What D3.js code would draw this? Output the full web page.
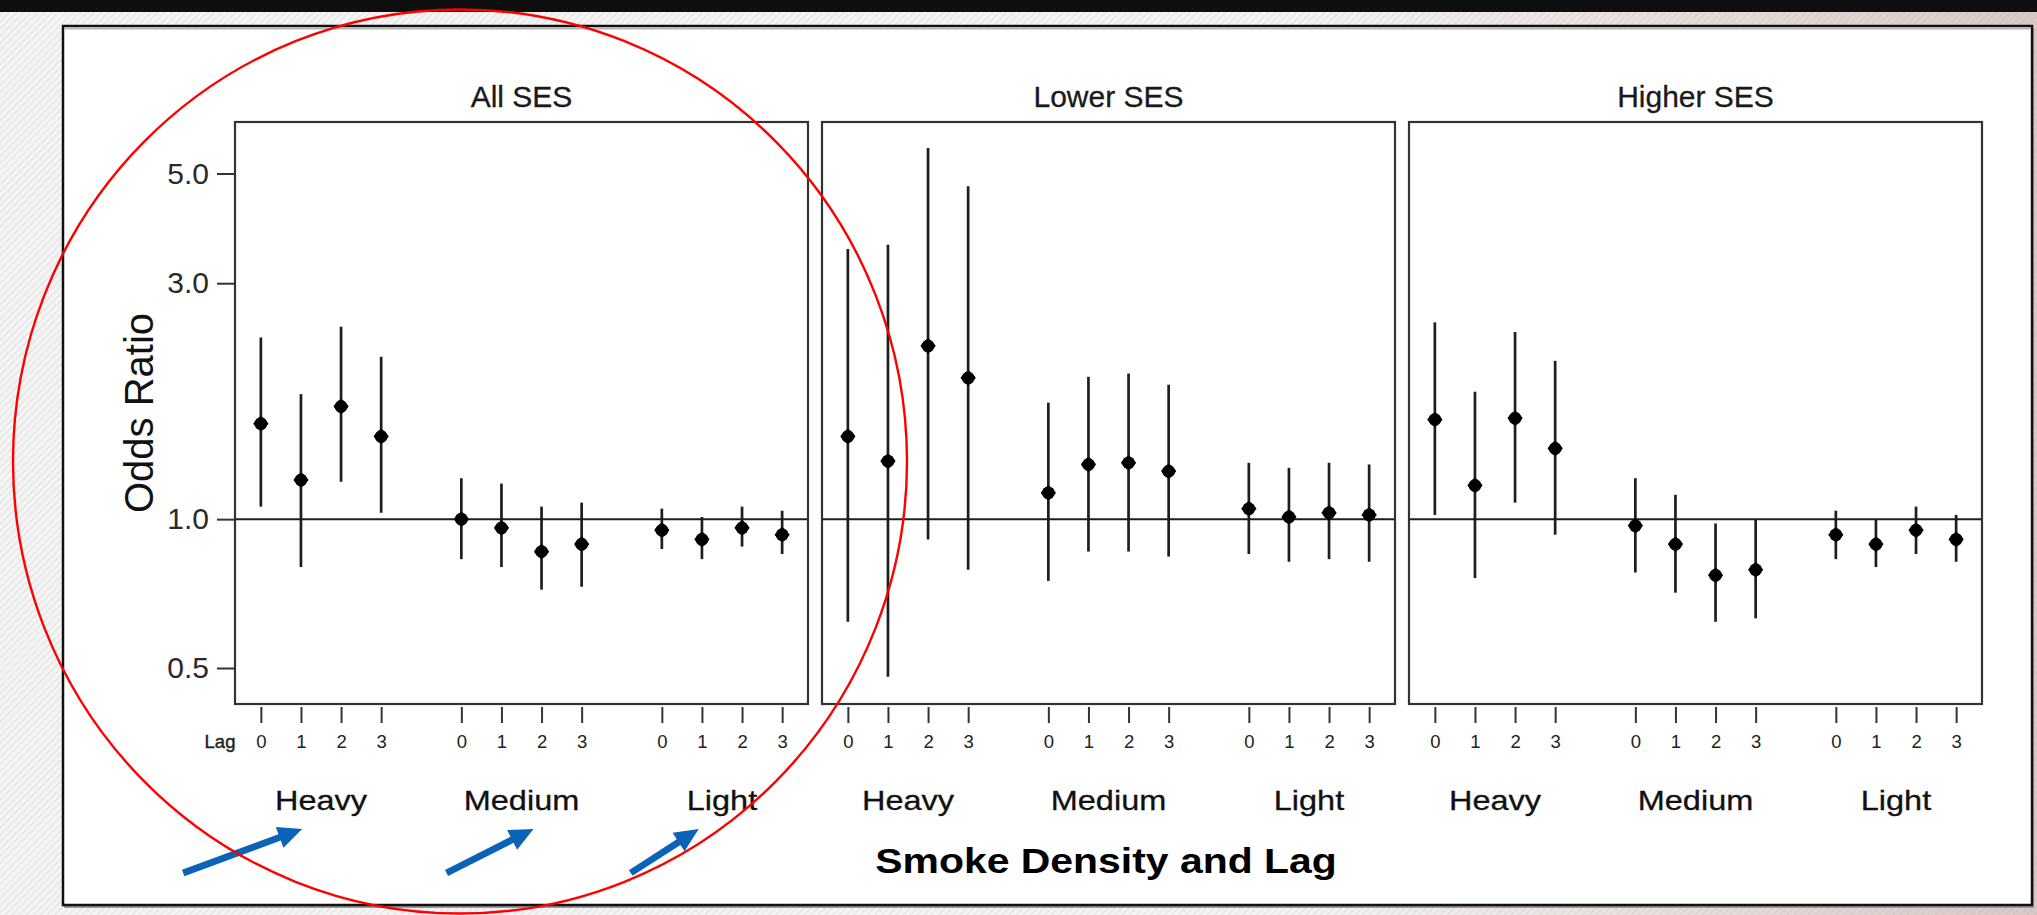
<!DOCTYPE html>
<html>
<head>
<meta charset="utf-8">
<script src="https://cdn.jsdelivr.net/npm/d3@7"></script>
<style>
  html, body { margin: 0; padding: 0; background: #fff; }
  svg { display: block; }
  text { font-family: "Liberation Sans", Arial, Helvetica, sans-serif; }
</style>
</head>
<body>
<svg id="chart" width="2037" height="915"></svg>
<script>
// Panels, smoke-density groups and lags
const panelNames = ["All SES", "Lower SES", "Higher SES"];
const densities = ["Heavy", "Medium", "Light"];
const lags = [0, 1, 2, 3];
const yTickValues = [0.5, 1.0, 3.0, 5.0];

// Odds ratios with 95% CI, ordered Heavy lag0..3, Medium lag0..3, Light lag0..3
const allEst  = [1.56, 1.20, 1.69, 1.47,  1.00, 0.96, 0.86, 0.89,  0.95, 0.91, 0.96, 0.93];
const allLow  = [1.06, 0.80, 1.19, 1.03,  0.83, 0.80, 0.72, 0.73,  0.87, 0.83, 0.88, 0.85];
const allHigh = [2.33, 1.79, 2.45, 2.13,  1.21, 1.18, 1.06, 1.08,  1.05, 1.01, 1.06, 1.04];

const lowerEst  = [1.47, 1.31, 2.24, 1.93,  1.13, 1.29, 1.30, 1.25,  1.05, 1.01, 1.03, 1.02];
const lowerLow  = [0.62, 0.48, 0.91, 0.79,  0.75, 0.86, 0.86, 0.84,  0.85, 0.82, 0.83, 0.82];
const lowerHigh = [3.52, 3.59, 5.63, 4.71,  1.72, 1.94, 1.97, 1.87,  1.30, 1.27, 1.30, 1.29];

const higherEst  = [1.59, 1.17, 1.60, 1.39,  0.97, 0.89, 0.77, 0.79,  0.93, 0.89, 0.95, 0.91];
const higherLow  = [1.02, 0.76, 1.08, 0.93,  0.78, 0.71, 0.62, 0.63,  0.83, 0.80, 0.85, 0.82];
const higherHigh = [2.50, 1.81, 2.39, 2.09,  1.21, 1.12, 0.98, 1.00,  1.04, 1.00, 1.06, 1.02];

const panelSeries = [
  { est: allEst,    lo: allLow,    hi: allHigh },
  { est: lowerEst,  lo: lowerLow,  hi: lowerHigh },
  { est: higherEst, lo: higherLow, hi: higherHigh }
];

// Highlight arrows under the first panel's density labels (x in panel units)
const arrowTipX = [2.03, 7.8, 11.92];
const arrowRun  = [119, 87, 68];

const W = 2037, H = 915;
const svg = d3.select("#chart");

// ---- page background ----
const defs = svg.append("defs");
const hatch = defs.append("pattern")
  .attr("id", "hatch").attr("patternUnits", "userSpaceOnUse")
  .attr("width", 5).attr("height", 5)
  .attr("patternTransform", "rotate(45)");
hatch.append("rect").attr("width", 5).attr("height", 5).attr("fill", "#f4f4f4");
hatch.append("line").attr("x1", 0).attr("y1", 0).attr("x2", 0).attr("y2", 5)
  .attr("stroke", "#e1e1e1").attr("stroke-width", 2);
const tint = defs.append("linearGradient").attr("id", "tint")
  .attr("gradientUnits", "userSpaceOnUse")
  .attr("x1", 1300).attr("y1", 0).attr("x2", W).attr("y2", 0);
tint.append("stop").attr("offset", 0).attr("stop-color", "#c4a6a0").attr("stop-opacity", 0);
tint.append("stop").attr("offset", 1).attr("stop-color", "#c4a6a0").attr("stop-opacity", 0.55);

svg.append("rect").attr("width", W).attr("height", H).attr("fill", "url(#hatch)");
svg.append("rect").attr("width", W).attr("height", H).attr("fill", "url(#tint)");
svg.append("rect").attr("width", W).attr("height", 12).attr("fill", "#0e0e0e");

// white figure card
svg.append("rect").attr("x", 64).attr("y", 28).attr("width", 1970).attr("height", 880)
  .attr("fill", "#9a9a9a");
svg.append("rect").attr("x", 63).attr("y", 26).attr("width", 1969).attr("height", 879)
  .attr("fill", "#fff").attr("stroke", "#111").attr("stroke-width", 2.5);
svg.append("line").attr("x1", 65).attr("x2", 2030).attr("y1", 28.5).attr("y2", 28.5)
  .attr("stroke", "#b5b5b5").attr("stroke-width", 2);

// ---- chart layout ----
const panelLeft0 = 235, panelW = 573, panelStep = 587;
const panelTop = 122, panelBottom = 704;

const x = d3.scaleLinear().domain([0.355, 14.645]).range([0, panelW]);
const y = d3.scaleLog().domain([0.5, 5]).range([668, 173.5]);

const posOf = i => Math.floor(i / 4) * 5 + (i % 4) + 1;
const positions = d3.range(12).map(posOf);

const ink = "#1e1e1e";

panelNames.forEach((name, p) => {
  const series = panelSeries[p];
  const g = svg.append("g").attr("transform", `translate(${panelLeft0 + p * panelStep},0)`);

  // reference line at OR = 1
  g.append("line")
    .attr("x1", 0).attr("x2", panelW)
    .attr("y1", y(1)).attr("y2", y(1))
    .attr("stroke", ink).attr("stroke-width", 2);

  // confidence intervals
  g.selectAll("line.ci").data(d3.range(12)).join("line")
    .attr("class", "ci")
    .attr("x1", i => x(posOf(i))).attr("x2", i => x(posOf(i)))
    .attr("y1", i => y(series.lo[i])).attr("y2", i => y(series.hi[i]))
    .attr("stroke", ink).attr("stroke-width", 2.7);

  // point estimates: filled rounded diamonds
  const pts = g.selectAll("g.pt").data(d3.range(12)).join("g")
    .attr("class", "pt")
    .attr("transform", i => `translate(${x(posOf(i))},${y(series.est[i])})`);
  pts.append("rect").attr("x", -5.6).attr("y", -5.6).attr("width", 11.2).attr("height", 11.2)
    .attr("rx", 1.2)
    .attr("transform", "rotate(45)").attr("fill", "#000");
  pts.append("circle").attr("r", 6.4).attr("fill", "#000");

  // panel frame
  g.append("rect")
    .attr("x", 0).attr("y", panelTop)
    .attr("width", panelW).attr("height", panelBottom - panelTop)
    .attr("fill", "none").attr("stroke", "#333").attr("stroke-width", 2.2);

  // panel title
  g.append("text")
    .attr("x", panelW / 2).attr("y", 107)
    .attr("text-anchor", "middle")
    .attr("font-size", 30).attr("fill", "#1a1a1a")
    .attr("stroke", "#1a1a1a").attr("stroke-width", 0.3)
    .text(name);

  // lag axis
  const xAxis = d3.axisBottom(x)
    .tickValues(positions)
    .tickFormat((d, i) => lags[i % 4])
    .tickSize(16).tickPadding(12);
  const xa = g.append("g").attr("transform", `translate(0,707)`).call(xAxis);
  xa.select(".domain").remove();
  xa.selectAll(".tick line").attr("stroke", "#333").attr("stroke-width", 2);
  xa.selectAll(".tick text").attr("font-size", 18.5).attr("fill", "#222")
    .attr("font-family", "'Liberation Sans', Arial, sans-serif");

  // density group labels
  g.selectAll("text.grp").data(densities).join("text")
    .attr("class", "grp")
    .attr("text-anchor", "middle")
    .attr("font-size", 28).attr("fill", "#111")
    .attr("stroke", "#111").attr("stroke-width", 0.3)
    .attr("transform", (d, k) => `translate(${x(k * 5 + 2.5)},810) scale(1.16,1)`)
    .text(d => d);

  if (p === 0) {
    const yAxis = d3.axisLeft(y)
      .tickValues(yTickValues)
      .tickFormat(d3.format(".1f"))
      .tickSize(18).tickPadding(8);
    const ya = g.append("g").call(yAxis);
    ya.select(".domain").remove();
    ya.selectAll(".tick line").attr("stroke", "#333").attr("stroke-width", 2);
    ya.selectAll(".tick text").attr("font-size", 30).attr("fill", "#2a2a2a")
      .attr("font-family", "'Liberation Sans', Arial, sans-serif");

    g.append("text")
      .attr("x", -15).attr("y", 748)
      .attr("text-anchor", "middle")
      .attr("font-size", 18.5).attr("fill", "#222")
      .attr("stroke", "#222").attr("stroke-width", 0.4)
      .text("Lag");

    // arrows pointing at the density labels
    arrowTipX.forEach((k, a) => {
      const tip = [x(k), 829];
      const tail = [tip[0] - arrowRun[a], tip[1] + 44];
      const dx = tip[0] - tail[0], dy = tip[1] - tail[1];
      const len = Math.hypot(dx, dy);
      const u = [dx / len, dy / len], n = [-u[1], u[0]];
      const headLen = 24, headHalf = 11, shaftHalf = 3.4;
      const base = [tip[0] - u[0] * headLen, tip[1] - u[1] * headLen];
      const pt = (o, s) => [o[0] + n[0] * s, o[1] + n[1] * s];
      const poly = [pt(tail, shaftHalf), pt(base, shaftHalf), pt(base, headHalf), tip,
                    pt(base, -headHalf), pt(base, -shaftHalf), pt(tail, -shaftHalf)];
      g.append("path")
        .attr("d", d3.line()(poly) + "Z")
        .attr("fill", "#0a63b6");
    });
  }
});

// axis titles
svg.append("text")
  .attr("transform", "translate(153,413) rotate(-90)")
  .attr("text-anchor", "middle")
  .attr("font-size", 40).attr("fill", "#111")
  .text("Odds Ratio");

svg.append("text")
  .attr("transform", "translate(1106,873) scale(1.137,1)")
  .attr("text-anchor", "middle")
  .attr("font-size", 36).attr("font-weight", "bold").attr("fill", "#000")
  .text("Smoke Density and Lag");

// red highlight oval around the first panel
svg.append("ellipse")
  .attr("cx", 460).attr("cy", 461.5)
  .attr("rx", 447).attr("ry", 452)
  .attr("fill", "none").attr("stroke", "#f00").attr("stroke-width", 2.4);
</script>
</body>
</html>
